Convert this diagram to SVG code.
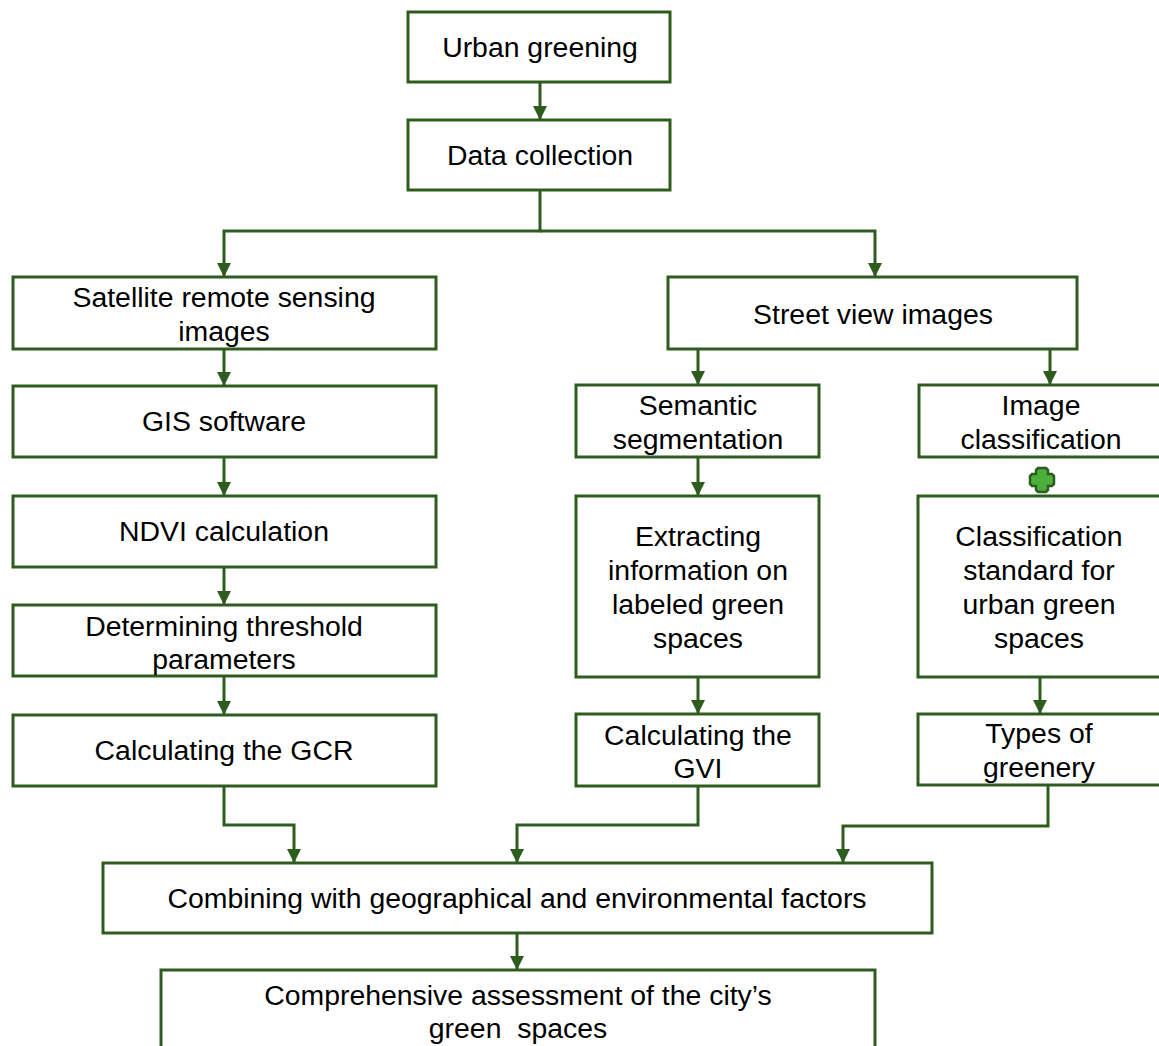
<svg xmlns="http://www.w3.org/2000/svg" width="1159" height="1046" viewBox="0 0 1159 1046">
<defs>
<style>
.box{fill:#fff;stroke:#2e5c1e;stroke-width:3}
.t{font-family:"Liberation Sans",Arial,sans-serif;font-size:28.4px;fill:#000;text-anchor:middle}
.c{fill:none;stroke:#2e5c1e;stroke-width:3}
</style>
<marker id="ad" markerUnits="userSpaceOnUse" markerWidth="14" markerHeight="14" viewBox="0 0 14 14" refX="14" refY="7" orient="auto">
<path d="M0,0 L14,7 L0,14 Z" fill="#2e5c1e"/>
</marker>
</defs>
<rect width="1159" height="1046" fill="#fff"/>
<g id="connectors">
<path class="c" d="M540,82 V120" marker-end="url(#ad)"/>
<path class="c" d="M540,190 V231 H224 V277" marker-end="url(#ad)"/>
<path class="c" d="M540,231 H875 V277" marker-end="url(#ad)"/>
<path class="c" d="M224,349 V386" marker-end="url(#ad)"/>
<path class="c" d="M224,457 V496" marker-end="url(#ad)"/>
<path class="c" d="M224,567 V605" marker-end="url(#ad)"/>
<path class="c" d="M224,676 V715" marker-end="url(#ad)"/>
<path class="c" d="M698,349 V385" marker-end="url(#ad)"/>
<path class="c" d="M1050,349 V385" marker-end="url(#ad)"/>
<path class="c" d="M698,457 V496" marker-end="url(#ad)"/>
<path class="c" d="M698,677 V714" marker-end="url(#ad)"/>
<path class="c" d="M1040,677 V714" marker-end="url(#ad)"/>
<path class="c" d="M224,786 V825 H294 V863" marker-end="url(#ad)"/>
<path class="c" d="M698,786 V825 H517 V863" marker-end="url(#ad)"/>
<path class="c" d="M1048,785 V826 H843 V863" marker-end="url(#ad)"/>
<path class="c" d="M517,933 V970" marker-end="url(#ad)"/>
</g>
<g id="plus">
<path d="M1038,468 h8 l2,2 v4 h4 l2,2 v8 l-2,2 h-4 v4 l-2,2 h-8 l-2,-2 v-4 h-4 l-2,-2 v-8 l2,-2 h4 v-4 Z" fill="#4caf3a" stroke="#2e5c1e" stroke-width="2.5"/>
</g>
<g id="n1"><rect class="box" x="408" y="12" width="262" height="70"/><text class="t" x="540" y="57">Urban greening</text></g>
<g id="n2"><rect class="box" x="408" y="120" width="262" height="70"/><text class="t" x="540" y="165">Data collection</text></g>
<g id="n3"><rect class="box" x="13" y="277" width="423" height="72"/><text class="t" x="224" y="307">Satellite remote sensing</text><text class="t" x="224" y="341">images</text></g>
<g id="n4"><rect class="box" x="13" y="386" width="423" height="71"/><text class="t" x="224" y="431">GIS software</text></g>
<g id="n5"><rect class="box" x="13" y="496" width="423" height="71"/><text class="t" x="224" y="541">NDVI calculation</text></g>
<g id="n6"><rect class="box" x="13" y="605" width="423" height="71"/><text class="t" x="224" y="636">Determining threshold</text><text class="t" x="224" y="669">parameters</text></g>
<g id="n7"><rect class="box" x="13" y="715" width="423" height="71"/><text class="t" x="224" y="760">Calculating the GCR</text></g>
<g id="n8"><rect class="box" x="668" y="277" width="409" height="72"/><text class="t" x="873" y="324">Street view images</text></g>
<g id="n9"><rect class="box" x="576" y="385" width="243" height="72"/><text class="t" x="698" y="415">Semantic</text><text class="t" x="698" y="449">segmentation</text></g>
<g id="n10"><rect class="box" x="919" y="385" width="242" height="72"/><text class="t" x="1041" y="415">Image</text><text class="t" x="1041" y="449">classification</text></g>
<g id="n11"><rect class="box" x="576" y="496" width="243" height="181"/><text class="t" x="698" y="546">Extracting</text><text class="t" x="698" y="580">information on</text><text class="t" x="698" y="614">labeled green</text><text class="t" x="698" y="648">spaces</text></g>
<g id="n12"><rect class="box" x="918" y="496" width="243" height="181"/><text class="t" x="1039" y="546">Classification</text><text class="t" x="1039" y="580">standard for</text><text class="t" x="1039" y="614">urban green</text><text class="t" x="1039" y="648">spaces</text></g>
<g id="n13"><rect class="box" x="576" y="714" width="243" height="72"/><text class="t" x="698" y="745">Calculating the</text><text class="t" x="698" y="778">GVI</text></g>
<g id="n14"><rect class="box" x="918" y="714" width="243" height="71"/><text class="t" x="1039" y="743">Types of</text><text class="t" x="1039" y="777">greenery</text></g>
<g id="n15"><rect class="box" x="103" y="863" width="829" height="70"/><text class="t" x="517" y="908">Combining with geographical and environmental factors</text></g>
<g id="n16"><rect class="box" x="161" y="970" width="714" height="80"/><text class="t" x="518" y="1005">Comprehensive assessment of the city’s</text><text class="t" x="518" y="1038" xml:space="preserve">green  spaces</text></g>
</svg>
